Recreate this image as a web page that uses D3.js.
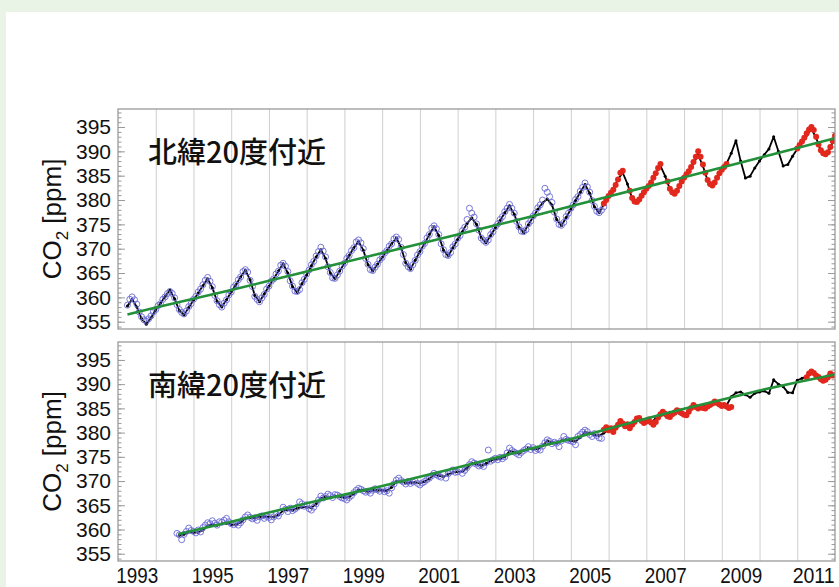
<!DOCTYPE html>
<html>
<head>
<meta charset="utf-8">
<script src="https://cdn.jsdelivr.net/npm/d3@7"></script>
<style>
  html, body { margin: 0; padding: 0; background: #e9f4e6; }
  svg { display: block; }
</style>
</head>
<body>
<svg id="chart" width="839" height="587"></svg>
<script>
// ---- time axis ----
const yearStart = 1993, yearEnd = 2012;
const gridYears = d3.range(1994, 2012);
const yearLabels = [1993, 1995, 1997, 1999, 2001, 2003, 2005, 2007, 2009, 2011];
const ppmTicks = [355, 360, 365, 370, 375, 380, 385, 390, 395];
const ppmMinor = d3.range(354, 399);

const step16 = 1 / 16;
const step8 = 1 / 8;

// ---- 北緯20度付近 ----
// flask samples (open circles), every 1/16 year from 1993.25
const northFlaskStart = 1993.25;
const northFlask = [
  358.4, 359.6, 360.1, 359.5, 358.6, 357.0, 356.0, 355.4, 355.1, 355.6, 356.2, 357.0,
  357.5, 358.3, 358.7, 359.6, 360.1, 360.8, 361.2, 360.8, 359.9, 358.5, 357.5, 356.9, 356.6, 357.2, 358.1, 358.7,
  359.6, 360.2, 361.1, 361.7, 362.6, 363.5, 364.1, 363.3, 362.2, 360.4, 359.3, 358.5, 358.0, 358.8, 359.5, 360.5,
  361.1, 362.1, 362.6, 363.6, 364.2, 365.3, 365.7, 365.2, 363.5, 362.2, 360.2, 359.6, 359.1, 359.9, 360.6, 361.7,
  362.3, 363.3, 363.8, 364.8, 365.4, 366.6, 367.0, 366.4, 365.3, 363.4, 362.3, 361.3, 361.2, 361.6, 363.0, 363.7,
  364.8, 365.6, 366.7, 367.4, 368.5, 369.4, 370.3, 369.5, 368.3, 366.3, 365.1, 364.0, 363.9, 364.6, 365.4, 366.4,
  367.0, 368.0, 368.6, 369.6, 370.2, 371.4, 371.8, 371.2, 370.0, 368.0, 366.8, 365.7, 365.5, 366.2, 366.8, 367.7,
  368.2, 369.1, 369.6, 370.5, 371.0, 372.0, 372.4, 371.9, 370.3, 368.8, 367.0, 366.3, 365.9, 366.7, 367.6, 368.7,
  369.4, 370.5, 371.1, 372.2, 372.9, 374.2, 374.7, 374.1, 372.9, 371.0, 369.8, 368.8, 368.6, 369.2, 370.4, 371.0,
  372.1, 372.7, 373.7, 374.4, 376.0, 378.3, 377.3, 376.5, 375.1, 373.8, 372.2, 371.7, 371.3, 371.8, 372.9, 373.5,
  374.5, 375.1, 376.0, 376.6, 377.6, 378.3, 379.1, 378.3, 377.3, 375.6, 374.5, 373.6, 373.5, 373.9, 375.1, 375.7,
  376.7, 377.3, 378.4, 379.0, 380.0, 382.4, 381.6, 380.7, 379.5, 377.5, 376.1, 375.0, 374.8, 375.4, 376.6, 377.3,
  378.3, 379.0, 380.1, 380.7, 381.8, 382.6, 383.5, 382.7, 381.6, 379.9, 378.7, 377.7, 377.4, 377.9, 378.6
];
// continuous record (black), every 1/8 year from 1993.25
const northDailyStart = 1993.25;
const northDaily = [
  358.2, 359.6, 358.0, 355.6, 354.5, 355.8,
  357.4, 358.8, 360.2, 361.5, 359.7, 357.3, 356.4, 357.9,
  359.4, 360.9, 362.4, 363.8, 362.0, 359.2, 358.0, 359.5,
  361.1, 362.6, 364.2, 365.6, 363.6, 360.4, 359.1, 360.7,
  362.3, 363.8, 365.4, 366.9, 365.0, 362.2, 361.0, 362.8,
  364.6, 366.5, 368.3, 369.8, 368.0, 365.0, 363.8, 365.4,
  367.0, 368.6, 370.2, 371.5, 369.7, 366.7, 365.4, 366.8,
  368.2, 369.6, 371.0, 372.2, 370.3, 367.1, 365.8, 367.6,
  369.4, 371.1, 372.9, 374.5, 372.7, 369.7, 368.5, 370.2,
  371.9, 373.5, 375.2, 376.3, 375.0, 372.3, 371.2, 372.7,
  374.3, 375.8, 377.4, 378.8, 377.1, 374.4, 373.3, 374.9,
  376.5, 378.1, 379.4, 380.2, 379.0, 376.0, 374.7, 376.4,
  378.1, 379.9, 381.6, 383.2, 381.4, 378.6, 377.4, 379.1,
  380.7, 382.4, 384.3, 385.6, 383.3, 380.3, 379.5, 380.8,
  382.2, 383.6, 385.5, 387.0, 384.9, 382.2, 381.2, 382.8,
  384.4, 385.8, 387.6, 389.2, 387.0, 384.0, 383.0, 384.6,
  386.1, 387.5, 389.6, 392.2, 388.0, 384.5, 384.9, 386.6,
  388.0, 389.3, 390.5, 393.0, 390.0, 387.0, 387.3, 389.0,
  390.5, 391.8, 393.3, 394.6, 392.8, 390.1, 389.3, 390.7,
  393.0
];
// in-situ measurements (red), every 1/16 year, two periods
const northCmeStartA = 2005.875;
const northCmeA = [
  379.3, 380.0,
  380.8, 381.5, 382.1, 383.1, 384.2, 385.6, 386.0, null, null, 381.9, 380.4, 379.7, 379.6, 380.1, 380.9, 381.6,
  382.3, 382.9, 383.6, 384.6, 385.5, 386.6, 387.4, null, null, 383.8, 382.3, 381.6, 381.3, 381.9, 382.9, 383.8,
  384.6, 385.3, 385.9, 386.8, 387.8, 388.9, 390.0, 388.9, 387.3, 385.6, 384.1, 383.3, 383.0, 383.6, 384.6, 385.5,
  386.2, 386.8, 387.4
];
const northCmeStartB = 2011.0;
const northCmeB = [
  390.6, 391.3, 392.0, 392.8, 393.7, 394.5, 395.0, 394.4, 393.0, 391.4, 390.2, 389.6, 389.4, 389.8, 390.9, 392.1,
  393.2
];
// long-term trend (green)
const northTrendYears = [1993.25, 1994, 1995, 1996, 1997, 1998, 1999, 2000, 2001, 2002, 2003, 2004, 2005, 2006, 2007, 2008, 2009, 2010, 2011, 2012];
const northTrend = [356.5, 357.9, 359.7, 361.5, 363.4, 365.3, 367.2, 369.1, 371.0, 372.9, 374.8, 376.7, 378.7, 380.7, 382.7, 384.7, 386.7, 388.7, 390.7, 392.7];

// ---- 南緯20度付近 ----
const southFlaskStart = 1994.5625;
const southFlask = [
  359.2, 358.9, 357.9, 359.0, 359.6, 360.3, 359.8,
  359.6, 359.3, 359.9, 359.5, 360.4, 360.9, 361.4, 361.2, 361.8, 361.3, 360.9, 361.6, 361.5, 361.9, 362.3, 361.6,
  361.2, 361.0, 361.3, 360.9, 361.4, 362.0, 362.6, 363.0, 362.5, 362.2, 362.4, 361.9, 362.6, 362.8, 362.3, 362.7,
  362.5, 362.0, 362.6, 363.1, 362.8, 363.6, 364.6, 364.2, 363.7, 364.4, 363.9, 364.2, 364.6, 365.7, 365.3, 364.8,
  365.1, 364.3, 364.0, 364.6, 365.3, 366.1, 366.9, 366.5, 366.8, 367.3, 367.0, 366.6, 367.2, 367.1, 366.8, 366.5,
  366.4, 366.1, 366.6, 367.0, 367.6, 368.1, 368.5, 368.3, 368.0, 367.7, 367.9, 367.5, 368.1, 368.4, 368.2, 367.9,
  368.3, 367.8, 368.0, 367.5, 368.6, 369.4, 370.2, 370.6, 370.1, 369.8, 369.4, 369.9, 369.5, 369.8, 370.0, 369.5,
  369.2, 369.6, 369.9, 370.3, 370.6, 371.1, 371.6, 371.3, 371.0, 370.8, 371.4, 370.6, 371.5, 371.9, 372.3, 371.8,
  371.9, 372.3, 371.6, 372.2, 372.8, 373.4, 374.0, 373.7, 373.5, 373.1, 373.3, 373.0, 373.8, 376.4, 374.1, 374.4,
  374.7, 374.4, 374.9, 374.6, 375.0, 375.8, 376.8, 376.3, 376.0, 375.7, 375.4, 375.9, 376.3, 376.6, 377.1, 376.5,
  376.9, 376.3, 376.6, 376.4, 377.2, 377.9, 378.5, 378.2, 377.7, 378.0, 377.8, 377.1, 378.3, 379.2, 378.6, 378.4,
  378.3, 378.1, 377.5, 379.2, 379.6, 380.1, 380.5, 380.2, 379.6, 379.2, 379.8, 379.4, 378.9, 378.8
];
const southDailyStart = 1994.625;
const southDaily = [
  358.8, 359.0, 359.5,
  359.4, 359.4, 359.9, 360.8, 361.0, 360.9, 361.2, 361.3,
  361.0, 361.0, 361.5, 362.3, 362.5, 362.4, 362.6, 362.7,
  362.6, 362.6, 363.0, 363.9, 364.1, 364.0, 364.4, 364.6,
  364.6, 364.5, 365.3, 366.4, 366.8, 366.6, 366.9, 366.8,
  366.6, 366.7, 367.4, 368.2, 368.1, 367.8, 368.1, 368.1,
  368.1, 368.0, 368.7, 369.9, 370.0, 369.6, 369.7, 369.7,
  369.6, 369.9, 370.5, 371.3, 371.1, 370.9, 371.4, 371.8,
  371.9, 372.0, 372.7, 373.7, 373.5, 373.2, 373.6, 374.2,
  374.5, 374.6, 375.0, 376.2, 376.0, 375.7, 376.3, 376.8,
  376.6, 376.6, 377.3, 378.3, 378.0, 377.8, 378.3, 378.6,
  378.3, 378.2, 379.0, 380.1, 379.8, 379.5, 379.4, 379.9,
  380.6, 380.7, 381.4, 382.0, 381.3, 381.8, 382.6, 382.4,
  382.3, 382.0, 383.0, 384.0, 383.6, 384.2, 384.5, 384.0,
  383.7, 384.5, 385.6, 385.2, 385.4, 385.6, 386.1, 386.0,
  385.8, 385.6, 387.4, 388.2, 388.4, 387.8, 387.3, 388.1,
  388.4, 388.6, 388.1, 390.9, 390.0, 389.5, 388.3, 388.2,
  390.8, 391.2, 391.6, 392.3, 391.6, 391.0, 391.2, 391.8,
  391.9
];
const southCmeStartA = 2005.875;
const southCmeA = [
  380.6, 381.1,
  380.5, 380.9, 380.1, 381.0, 381.6, 382.4, 381.9, 381.3, 381.7, 380.9, 381.6, 382.2, 382.9, 383.0, 382.4, 382.0,
  382.3, 382.7, 382.1, 381.6, 382.2, 383.1, 383.8, 384.3, 383.9, 383.4, 383.2, 383.8, 384.1, 384.6, 384.4, 384.0,
  383.7, 383.6, 384.3, 385.1, 385.7, 385.3, 385.0, 385.3, 385.1, 385.0, 385.4, 385.7, 386.0, 386.4, 386.1, 385.8,
  385.5, 385.7, 385.4, 385.1, 385.3
];
const southCmeStartB = 2011.25;
const southCmeB = [391.4, 392.2, 392.6, 392.3, 391.8, 391.5, 391.0, 390.7, 390.9, 391.4, 392.2, 391.8, 391.9];
const southTrendYears = [1994.6, 1995, 1996, 1997, 1998, 1999, 2000, 2001, 2002, 2003, 2004, 2005, 2006, 2007, 2008, 2009, 2010, 2011, 2012];
const southTrend = [359.0, 359.8, 361.6, 363.5, 365.4, 367.2, 369.0, 370.9, 372.8, 374.8, 376.8, 378.7, 380.8, 382.9, 384.9, 386.8, 388.7, 390.4, 392.0];

// ---- drawing ----
const W = 839, H = 587;
const plotLeft = 118, plotRight = 835;
const svg = d3.select('#chart');

svg.append('rect')
  .attr('x', 6).attr('y', 12)
  .attr('width', W - 6).attr('height', H - 12)
  .attr('fill', '#ffffff');

const x = d3.scaleLinear().domain([yearStart, yearEnd]).range([plotLeft, plotRight]);

function series(start, step, values) {
  return values
    .map((v, i) => ({ t: start + i * step, v }))
    .filter(d => d.v != null);
}
function pairs(years, values) {
  return years.map((t, i) => ({ t, v: values[i] }));
}

const panels = [
  {
    id: 'n', top: 109, bottom: 329, title: '北緯20度付近',
    flask: series(northFlaskStart, step16, northFlask),
    daily: series(northDailyStart, step8, northDaily),
    cme: series(northCmeStartA, step16, northCmeA).concat(series(northCmeStartB, step16, northCmeB)),
    trend: pairs(northTrendYears, northTrend)
  },
  {
    id: 's', top: 342, bottom: 561, title: '南緯20度付近',
    flask: series(southFlaskStart, step16, southFlask),
    daily: series(southDailyStart, step8, southDaily),
    cme: series(southCmeStartA, step16, southCmeA).concat(series(southCmeStartB, step16, southCmeB)),
    trend: pairs(southTrendYears, southTrend)
  }
];

const frameColor = '#9a9a9a';
const numFont = '"Liberation Sans", Arial, sans-serif';

panels.forEach((p, idx) => {
  const y = d3.scaleLinear().domain([353.5, 398.7]).range([p.bottom, p.top]);
  const g = svg.append('g');

  g.append('clipPath').attr('id', 'clip-' + p.id)
    .append('rect')
    .attr('x', plotLeft).attr('y', p.top)
    .attr('width', plotRight - plotLeft).attr('height', p.bottom - p.top);

  // vertical year grid
  g.append('g')
    .attr('transform', `translate(0,${p.bottom})`)
    .call(d3.axisBottom(x).tickValues(gridYears).tickSize(-(p.bottom - p.top)).tickFormat(''))
    .call(a => a.select('.domain').remove())
    .call(a => a.selectAll('line').attr('stroke', '#cfcfcf').attr('stroke-width', 1));

  // inner tick marks, left and right
  [[d3.axisLeft, plotLeft], [d3.axisRight, plotRight]].forEach(([axisFn, xp]) => {
    g.append('g').attr('transform', `translate(${xp},0)`)
      .call(axisFn(y).tickValues(ppmMinor).tickSize(-3.5).tickFormat(''))
      .call(a => a.select('.domain').remove())
      .call(a => a.selectAll('line').attr('stroke', frameColor));
    g.append('g').attr('transform', `translate(${xp},0)`)
      .call(axisFn(y).tickValues(ppmTicks).tickSize(-7).tickFormat(''))
      .call(a => a.select('.domain').remove())
      .call(a => a.selectAll('line').attr('stroke', frameColor));
  });

  // ppm labels
  g.append('g').attr('transform', `translate(${plotLeft},0)`)
    .call(d3.axisLeft(y).tickValues(ppmTicks).tickSize(0).tickPadding(7))
    .call(a => a.select('.domain').remove())
    .call(a => a.selectAll('text')
      .attr('font-family', numFont).attr('font-size', 21).attr('fill', '#111'));

  // data
  const data = g.append('g').attr('clip-path', `url(#clip-${p.id})`);

  // continuous record: black trace with its samples
  data.append('path').datum(p.daily)
    .attr('fill', 'none').attr('stroke', '#000').attr('stroke-width', 1.8)
    .attr('stroke-linejoin', 'round')
    .attr('d', d3.line().x(d => x(d.t)).y(d => y(d.v)));
  data.append('g').selectAll('circle').data(p.daily).join('circle')
    .attr('cx', d => x(d.t)).attr('cy', d => y(d.v)).attr('r', 1.5).attr('fill', '#000');

  data.append('g').selectAll('circle').data(p.flask).join('circle')
    .attr('cx', d => x(d.t)).attr('cy', d => y(d.v)).attr('r', 3)
    .attr('fill', 'none').attr('stroke', '#6a6ad6').attr('stroke-width', 0.9);

  data.append('g').selectAll('circle').data(p.cme).join('circle')
    .attr('cx', d => x(d.t)).attr('cy', d => y(d.v)).attr('r', 3)
    .attr('fill', '#e2281d');

  data.append('path').datum(p.trend)
    .attr('fill', 'none').attr('stroke', '#23903a').attr('stroke-width', 2.6)
    .attr('d', d3.line().x(d => x(d.t)).y(d => y(d.v)));

  // frame
  g.append('rect')
    .attr('x', plotLeft).attr('y', p.top)
    .attr('width', plotRight - plotLeft).attr('height', p.bottom - p.top)
    .attr('fill', 'none').attr('stroke', frameColor).attr('stroke-width', 1.3);

  // region title
  g.append('text')
    .attr('x', 148).attr('y', p.top + 54)
    .attr('font-family', '"Noto Sans CJK JP", sans-serif')
    .attr('font-weight', 500)
    .attr('font-size', 29).attr('fill', '#111')
    .text(p.title);

  // y axis title
  const yt = g.append('text')
    .attr('transform', `translate(61,${(p.top + p.bottom) / 2}) rotate(-90)`)
    .attr('text-anchor', 'middle')
    .attr('font-family', numFont).attr('font-size', 26).attr('fill', '#111');
  yt.append('tspan').text('CO');
  yt.append('tspan').attr('font-size', 17).attr('dy', 7).text('2');
  yt.append('tspan').attr('dy', -7).text(' [ppm]');

  // year labels under the lower panel
  if (idx === panels.length - 1) {
    g.append('g').attr('transform', `translate(0,${p.bottom})`)
      .call(d3.axisBottom(x).tickValues(yearLabels.map(v => v + 0.5))
        .tickFormat(d => String(Math.floor(d))).tickSize(0))
      .call(a => a.select('.domain').remove())
      .call(a => a.selectAll('text')
        .attr('y', 22).attr('dy', 0)
        .attr('dx', (d, i, n) => i === n.length - 1 ? -3 : 0)
        .attr('font-family', '"Liberation Sans Narrow", "Arial Narrow", "Liberation Sans", sans-serif')
        .attr('font-size', 22).attr('fill', '#111')
        .attr('textLength', 42).attr('lengthAdjust', 'spacingAndGlyphs'));
  }
});
</script>
</body>
</html>
